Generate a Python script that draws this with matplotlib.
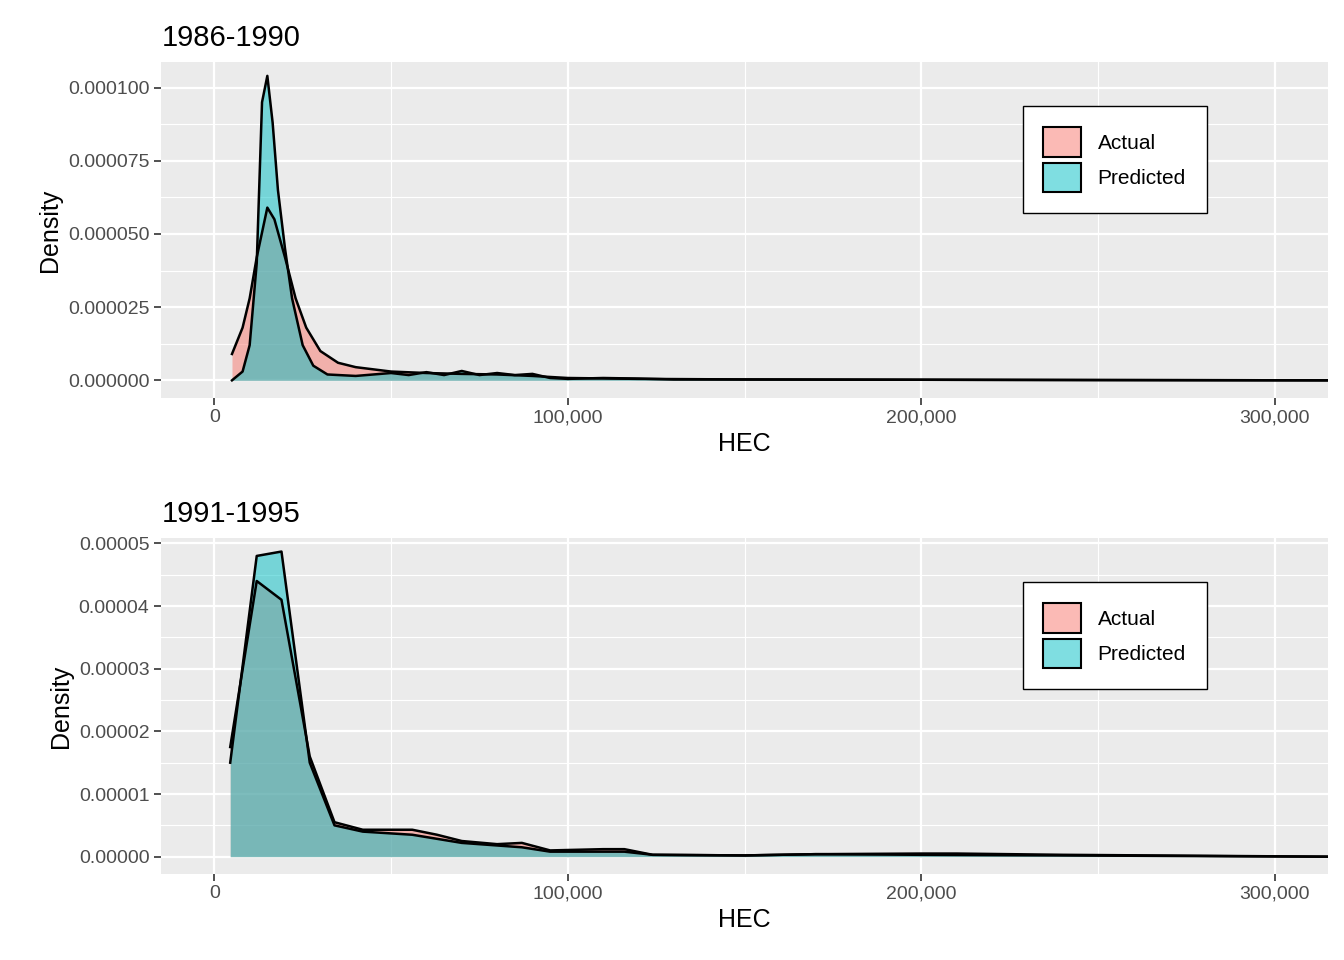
import numpy as np
import matplotlib.pyplot as plt
from matplotlib.ticker import FuncFormatter, MultipleLocator
from matplotlib.colors import to_rgba

# ---- data (HEC value, density) ----
p1_actual_x = [5000, 8000, 10000, 12000, 15000, 17000, 20000, 23000, 26000, 30000, 35000, 40000, 50000,
               60000, 70000, 80000, 90000, 100000, 120000, 150000, 200000, 250000, 315000]
p1_actual_y = [9e-6, 1.8e-5, 2.8e-5, 4.2e-5, 5.9e-5, 5.5e-5, 4.2e-5, 2.8e-5, 1.8e-5, 1.0e-5, 6e-6, 4.5e-6, 3e-6,
               2.5e-6, 2.2e-6, 2.0e-6, 1.5e-6, 0.8e-6, 0.5e-6, 0.3e-6, 0.2e-6, 0.1e-6, 0.0]
p1_pred_x = [5000, 8000, 10000, 12000, 13500, 15000, 16500, 18000, 20000, 22000, 25000, 28000, 32000, 40000,
             50000, 55000, 60000, 65000, 70000, 75000, 80000, 85000, 90000, 95000, 100000, 110000, 120000,
             130000, 150000, 200000, 250000, 315000]
p1_pred_y = [0, 3e-6, 1.2e-5, 4e-5, 9.5e-5, 1.04e-4, 8.8e-5, 6.5e-5, 4.5e-5, 2.8e-5, 1.2e-5, 5e-6, 2e-6, 1.5e-6,
             2.5e-6, 1.8e-6, 2.8e-6, 1.8e-6, 3.2e-6, 1.8e-6, 2.5e-6, 1.8e-6, 2.2e-6, 0.8e-6, 0.5e-6, 0.8e-6, 0.6e-6,
             0.3e-6, 0.3e-6, 0.2e-6, 0.1e-6, 0.0]

p2_actual_x = [4500, 12000, 19000, 27000, 34000, 42000, 56000, 63000, 70000, 80000, 87000, 95000, 110000,
               116000, 124000, 150000, 170000, 200000, 210000, 240000, 315000]
p2_actual_y = [1.75e-5, 4.4e-5, 4.1e-5, 1.6e-5, 5.5e-6, 4.3e-6, 4.3e-6, 3.5e-6, 2.5e-6, 2.0e-6, 2.2e-6, 1.0e-6, 1.2e-6,
               1.2e-6, 0.3e-6, 0.2e-6, 0.4e-6, 0.5e-6, 0.5e-6, 0.3e-6, 0.0]
p2_pred_x = [4500, 12000, 19000, 27000, 34000, 42000, 56000, 70000, 87000, 95000, 116000, 124000, 150000,
             170000, 200000, 240000, 315000]
p2_pred_y = [1.5e-5, 4.8e-5, 4.87e-5, 1.5e-5, 5e-6, 4e-6, 3.5e-6, 2.2e-6, 1.5e-6, 0.8e-6, 0.8e-6, 0.3e-6, 0.2e-6,
             0.4e-6, 0.3e-6, 0.2e-6, 0.0]

panels = [
    ("1986-1990", p1_actual_x, p1_actual_y, p1_pred_x, p1_pred_y, -0.0000059, 0.0001086,
     [0, 0.000025, 0.00005, 0.000075, 0.0001], "{:.6f}"),
    ("1991-1995", p2_actual_x, p2_actual_y, p2_pred_x, p2_pred_y, -0.0000027, 0.0000508,
     [0, 0.00001, 0.00002, 0.00003, 0.00004, 0.00005], "{:.5f}"),
]

plt.rcParams['font.family'] = ['Liberation Sans', 'DejaVu Sans']
fig, axes = plt.subplots(2, 1, figsize=(13.44, 9.6), dpi=100)
fig.subplots_adjust(left=0.12, right=0.988, top=0.935, bottom=0.09, hspace=0.42)

colors = {'Actual': '#F8766D', 'Predicted': '#00BFC4'}

for ax, (title, ax_x, ax_y, pr_x, pr_y, y0, y1, yt, fmt) in zip(axes, panels):
    ax.set_facecolor('#EBEBEB')
    ax.fill_between(ax_x, ax_y, color=colors['Actual'], alpha=0.5, lw=0, label='Actual')
    ax.plot(ax_x, ax_y, color='black', lw=1.8)
    ax.fill_between(pr_x, pr_y, color=colors['Predicted'], alpha=0.5, lw=0, label='Predicted')
    ax.plot(pr_x, pr_y, color='black', lw=1.8)

    ax.set_xlim(-15000, 315000)
    ax.set_ylim(y0, y1)
    ax.set_xticks([0, 100000, 200000, 300000])
    ax.xaxis.set_minor_locator(MultipleLocator(50000))
    ax.set_yticks(yt)
    ax.set_yticks([(a + b) / 2 for a, b in zip(yt[:-1], yt[1:])], minor=True)
    ax.xaxis.set_major_formatter(FuncFormatter(lambda v, p: f"{int(v):,}"))
    ax.yaxis.set_major_formatter(FuncFormatter(lambda v, p, f=fmt: f.format(v)))
    ax.grid(which='major', color='white', lw=1.6)
    ax.grid(which='minor', color='white', lw=0.8)
    ax.set_axisbelow(True)
    for s in ax.spines.values():
        s.set_visible(False)
    ax.tick_params(which='major', colors='#333333', labelsize=14, length=5, width=1.2)
    ax.tick_params(which='minor', length=0)
    ax.tick_params(labelcolor='#4D4D4D')
    ax.set_xlabel('HEC', fontsize=18)
    ax.set_ylabel('Density', fontsize=18)
    ax.set_title(title, loc='left', fontsize=21, pad=12)
    leg = ax.legend(loc='upper right', bbox_to_anchor=(0.905, 0.9), fontsize=15,
                    fancybox=False, edgecolor='black', framealpha=1, handlelength=1.8, handleheight=1.8,
                    borderpad=1.0, labelspacing=0.3)
    for h, name in zip(leg.legend_handles, ['Actual', 'Predicted']):
        h.set_alpha(None)
        h.set_facecolor(to_rgba(colors[name], 0.5))
        h.set_edgecolor('black')
        h.set_linewidth(1.5)

fig.savefig('out.png')
